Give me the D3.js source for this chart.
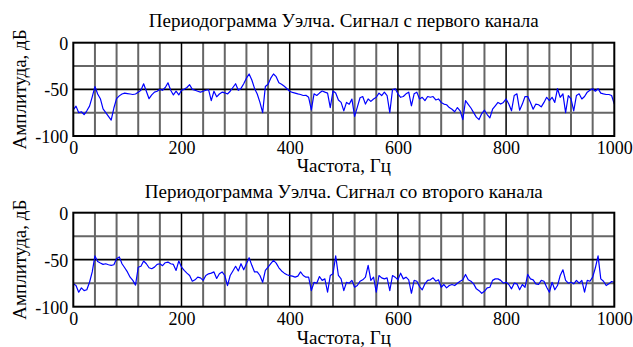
<!DOCTYPE html>
<html><head><meta charset="utf-8">
<script src="https://cdn.jsdelivr.net/npm/d3@7"></script>
<style>html,body{margin:0;padding:0;background:#fff}svg{display:block}</style>
</head><body>
<script>
const titles = ["Периодограмма Уэлча. Сигнал с первого канала", "Периодограмма Уэлча. Сигнал со второго канала"];
const xLabel = "Частота, Гц";
const yLabel = "Амплитуда, дБ";
const xTicks = [0, 200, 400, 600, 800, 1000];
const yTicks = [0, -50, -100];
const freqStep = 5; // Hz between samples
const channel1 = [
-72,-68,-75,-74,-77,-73,-68,-58,-47,-55,-60,-71,-75,-79,-83,-70,-60,-57,-55,-54,
-54.5,-55,-55.5,-55,-53,-51,-44,-52,-60,-56,-53,-52,-50,-51,-48,-43,-51,-56,-52,-56,
-51,-50,-48,-45,-50,-51,-52,-53,-52,-51,-50.4,-62,-52,-58,-55,-53,-53.7,-55,-52,-48,
-44,-51,-49,-44,-38,-33.5,-40,-49,-55,-64,-75,-47,-44.5,-38,-33.5,-36.4,-43,-44.5,-46.7,-49.3,
-52,-53.3,-54,-54.8,-55.5,-56.6,-56.3,-58.5,-72,-54.8,-56.6,-54,-51.8,-53,-54,-69.5,-51.8,-54,-61.4,-64,
-73,-64,-66,-60.5,-79,-69,-59,-57.7,-65.8,-60.3,-62.9,-60.3,-58.5,-54,-56.6,-53,-56.6,-75,-50.4,-49.3,
-54.8,-58.5,-57.7,-54.8,-53,-67.6,-54.8,-53,-60.3,-58.5,-62,-57.7,-58.5,-57.7,-61.4,-60.3,-64,-65.8,-66.5,-69.5,
-71.3,-74,-69.5,-73,-82.4,-62,-66,-70,-75,-79.8,-82.4,-76,-72.4,-77,-80.5,-71.3,-67.6,-64,-65.8,-64,
-60.3,-65.8,-73,-56.6,-54.8,-72.4,-65.8,-57.7,-57.7,-64,-71.3,-65.8,-66.5,-68.8,-64,-58.5,-62,-58.5,-64,-49.3,
-58.5,-54.8,-75,-56.6,-60.3,-73,-56.6,-54.8,-60.3,-57.7,-53,-51,-49.3,-52,-49.3,-54,-54.8,-55.5,-55.5,-56.6,
-65.8
];
const channel2 = [
-75.7,-77.5,-84.6,-80,-82.9,-82,-74,-63,-46,-52,-53.6,-55,-54.3,-55.4,-56,-55.4,-49,-47,-54.3,-58.6,
-63,-68.6,-72,-77,-58,-57,-51.4,-54.3,-58.6,-59.6,-57.9,-55,-54.3,-56.4,-53.2,-52.5,-54.3,-55,-61.4,-51.4,
-57.9,-61.4,-64.3,-66.8,-72.9,-71.4,-68.6,-69.3,-72,-66.8,-65,-64.3,-63,-70,-65,-63,-66.8,-77.5,-66.8,-62,
-57,-62,-54.3,-60.7,-54.3,-47.9,-56,-63,-63,-66.8,-74,-61.4,-57.9,-54.3,-50.7,-53.6,-58.6,-62,-64.3,-66,
-67,-67.5,-68.6,-67.5,-63,-66.8,-68.6,-68.6,-82.9,-74,-75,-67.9,-72,-70.4,-84.6,-66.8,-65,-46,-66.8,-70.4,
-82.9,-74,-75,-72,-79.3,-77.5,-72.9,-71.4,-68.6,-56,-72,-68.6,-84.6,-66.8,-69.3,-70.4,-69.3,-82.9,-66.8,-68.6,
-71.4,-64.3,-70.4,-68.6,-71.4,-85.7,-72,-72.9,-78.6,-82,-75.7,-72,-71.4,-69.3,-72.9,-71.4,-79.3,-76.4,-80,-77.5,
-76.4,-77.5,-75,-72.9,-71.4,-65.7,-71.4,-72.9,-75.7,-81,-82.9,-85.7,-83.6,-80,-79.3,-72,-70.4,-70.4,-72,-75,
-74,-76.4,-81,-75,-75.7,-82,-76.4,-79.3,-65.7,-70.4,-71.4,-75.7,-76.4,-72,-72.9,-79.3,-84.6,-74,-82,-77.5,
-66.8,-60.7,-72,-75,-74,-75.7,-72,-75,-72,-84.6,-72,-72.9,-68.6,-58.6,-46,-70.4,-72.9,-77.5,-75.7,-73.2,
-74
];

const W = 633, H = 347;
const svg = d3.select("body").append("svg").attr("width", W).attr("height", H);
const font = "Liberation Serif, Times New Roman, serif";
const panels = [
  {data: channel1, title: titles[0], top: 42.7, bottom: 136, titleY: 27, tickY: 154, labelY: 172},
  {data: channel2, title: titles[1], top: 212.7, bottom: 306.7, titleY: 197.5, tickY: 325, labelY: 344}
];
const left = 73.3, right = 614.3;
const x = d3.scaleLinear().domain([0, 1000]).range([left, right]);

panels.forEach(p => {
  const y = d3.scaleLinear().domain([-100, 0]).range([p.bottom, p.top]);
  const g = svg.append("g");
  // minor grid
  const xMinor = d3.range(0, 1001, 40).filter(v => v % 200 !== 0);
  g.selectAll(".vmin").data(xMinor).enter().append("line")
    .attr("x1", d => x(d)).attr("x2", d => x(d)).attr("y1", p.top).attr("y2", p.bottom)
    .attr("stroke", "#666").attr("stroke-width", 2);
  g.selectAll(".hmin").data([-25, -75]).enter().append("line")
    .attr("x1", left).attr("x2", right).attr("y1", d => y(d)).attr("y2", d => y(d))
    .attr("stroke", "#666").attr("stroke-width", 2);
  // major grid
  g.selectAll(".vmaj").data(xTicks.slice(1, -1)).enter().append("line")
    .attr("x1", d => x(d)).attr("x2", d => x(d)).attr("y1", p.top).attr("y2", p.bottom)
    .attr("stroke", "#000").attr("stroke-width", 1.5);
  g.selectAll(".hmaj").data([-50]).enter().append("line")
    .attr("x1", left).attr("x2", right).attr("y1", d => y(d)).attr("y2", d => y(d))
    .attr("stroke", "#000").attr("stroke-width", 1.8);
  // data line
  const line = d3.line().x((d, i) => x(i * freqStep)).y(d => y(d));
  g.append("path").datum(p.data).attr("d", line)
    .attr("fill", "none").attr("stroke", "#0000ff").attr("stroke-width", 1.2).attr("stroke-linejoin", "round");
  // border
  g.append("rect").attr("x", left).attr("y", p.top).attr("width", right - left).attr("height", p.bottom - p.top)
    .attr("fill", "none").attr("stroke", "#000").attr("stroke-width", 2);
  // axes tick labels
  const xAxis = d3.axisBottom(x).tickValues(xTicks).tickFormat(d => String(d)).tickSize(0).tickPadding(0);
  const ax = g.append("g").attr("transform", `translate(0,${p.bottom})`).call(xAxis);
  ax.select(".domain").remove();
  ax.selectAll("text").attr("dy", null).attr("y", p.tickY - p.bottom)
    .attr("font-family", font).attr("font-size", 18).attr("fill", "#000");
  const yAxis = d3.axisLeft(y).tickValues(yTicks).tickFormat(d => String(d)).tickSize(0).tickPadding(5);
  const ay = g.append("g").attr("transform", `translate(${left},0)`).call(yAxis);
  ay.select(".domain").remove();
  ay.selectAll("text").attr("dy", "0.35em")
    .attr("font-family", font).attr("font-size", 18).attr("fill", "#000");
  // title
  g.append("text").attr("x", (left + right) / 2).attr("y", p.titleY).attr("text-anchor", "middle")
    .attr("font-family", font).attr("font-size", 19).text(p.title);
  g.append("text").attr("x", (left + right) / 2).attr("y", p.labelY).attr("text-anchor", "middle")
    .attr("font-family", font).attr("font-size", 19).text(xLabel);
  g.append("text").attr("transform", `translate(26,${(p.top + p.bottom) / 2}) rotate(-90)`)
    .attr("text-anchor", "middle").attr("font-family", font).attr("font-size", 19).text(yLabel);
});
</script>
</body></html>
